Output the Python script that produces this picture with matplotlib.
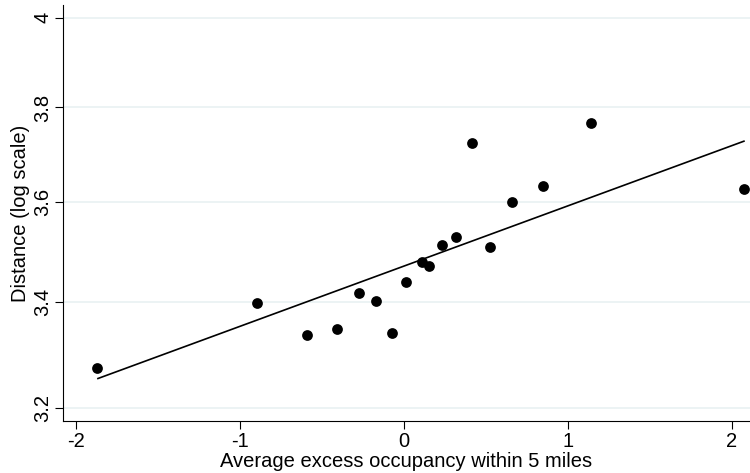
import numpy as np
import matplotlib
matplotlib.use("Agg")
from matplotlib import pyplot as plt
from matplotlib.ticker import FixedLocator, NullLocator

# excess occupancy (x) and distance (y)
occupancy = [-1.868, -0.895, -0.592, -0.409, -0.276, -0.169, -0.073, 0.014, 0.110,
             0.154, 0.234, 0.317, 0.413, 0.524, 0.660, 0.849, 1.142, 2.075]
distance = [3.274, 3.398, 3.337, 3.348, 3.418, 3.403, 3.340, 3.439, 3.479,
            3.471, 3.512, 3.528, 3.723, 3.509, 3.601, 3.633, 3.766, 3.627]

# fitted line, ends
fit_x = [-1.864, 2.073]
fit_y = [3.255, 3.7275]

y_ticks = [3.2, 3.4, 3.6, 3.8, 4.0]
y_ticklabels = ["3.2", "3.4", "3.6", "3.8", "4"]
x_ticks = [-2, -1, 0, 1, 2]

plt.rcParams['font.family'] = ['Liberation Sans', 'DejaVu Sans']

fig = plt.figure(figsize=(7.5, 4.73), dpi=100)
ax = fig.add_axes([0.084, 0.110, 0.916, 0.8794])

ax.set_yscale('log')
ax.set_ylim(3.177, 4.029)
ax.set_xlim(-2.077, 2.11)

for t in y_ticks:
    ax.axhline(t, color='#eaf2f3', lw=1.3, zorder=0)

ax.plot(fit_x, fit_y, color='black', lw=1.2, zorder=2)
ax.scatter(occupancy, distance, s=60, color='black', zorder=3, linewidths=0)

ax.yaxis.set_major_locator(FixedLocator(y_ticks))
ax.yaxis.set_minor_locator(NullLocator())
ax.set_yticklabels(y_ticklabels, rotation=90, va='center')
ax.set_xticks(x_ticks)
ax.set_xticklabels([str(v) for v in x_ticks])

ax.spines['top'].set_visible(False)
ax.spines['right'].set_visible(False)
ax.tick_params(axis='both', which='major', labelsize=14.5, length=5.8, width=0.8,
               direction='out', pad=2)

ax.set_xlabel('Average excess occupancy within 5 miles', fontsize=14.5, labelpad=1)
ax.set_ylabel('Distance (log scale)', fontsize=14.5, labelpad=2)

fig.savefig('out.png', dpi=100)
